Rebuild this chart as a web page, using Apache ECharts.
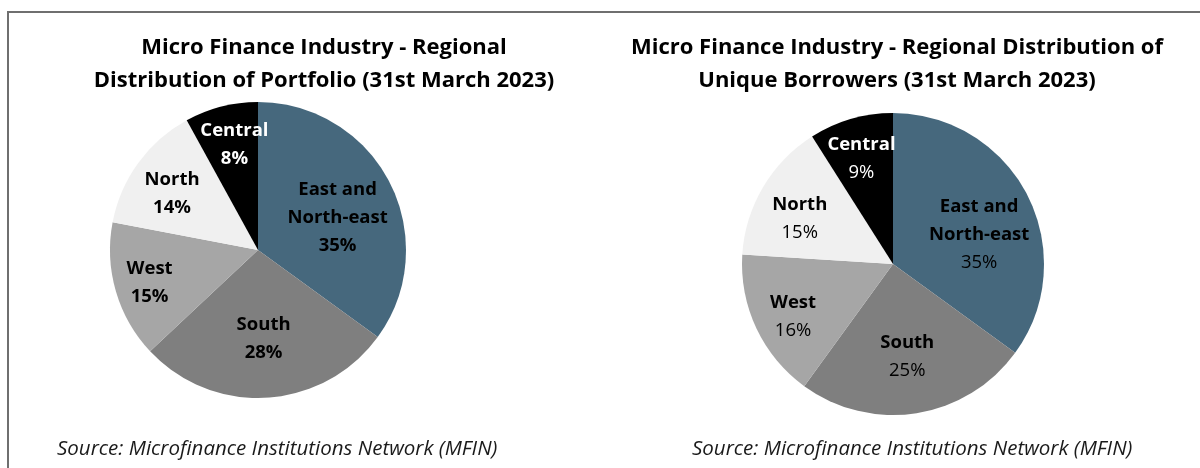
<!DOCTYPE html>
<html>
<head>
<meta charset="utf-8">
<script src="https://cdn.jsdelivr.net/npm/echarts@6/dist/echarts.min.js"></script>
<style>
  html, body { margin: 0; padding: 0; background: #ffffff; }
  #chart { width: 1200px; height: 468px; }
</style>
</head>
<body>
<div id="chart"></div>
<script>
// Regional distribution of the micro finance industry, 31st March 2023
const regions = ['East and\nNorth-east', 'South', 'West', 'North', 'Central'];
const portfolioShare = [35, 28, 15, 14, 8];
const borrowerShare = [35, 25, 16, 15, 9];

const sliceColors = ['#46687d', '#7f7f7f', '#a6a6a6', '#f0f0f0', '#000000'];
const labelColors = ['#000000', '#000000', '#000000', '#000000', '#ffffff'];
// how far out along each slice's middle the label sits (fraction of radius)
const labelDepth = [0.58, 0.58, 0.76, 0.69, 0.72];
// small extra label shifts per slice, one list per pie
const labelNudgeLeft = [[0, 8], [0, 0], [4, 0], [0, 6], [4, 2]];
const labelNudgeRight = [[5, 12], [0, 3], [8, 2], [0, 10], [0, 3]];

const FONT = '"Open Sans", Lato, sans-serif';

const chart = echarts.init(document.getElementById('chart'), null, { renderer: 'canvas' });

function buildData(values) {
  return regions.map((name, i) => ({
    name: name,
    value: values[i],
    itemStyle: { color: sliceColors[i] },
    label: { color: labelColors[i] }
  }));
}

function pieSeries(values, center, radius, pctWeight, nudge) {
  return {
    type: 'pie',
    center: center,
    radius: [0, radius],
    startAngle: 90,
    clockwise: true,
    animation: false,
    silent: true,
    data: buildData(values),
    itemStyle: { borderWidth: 0 },
    label: {
      show: true,
      position: 'inside',
      formatter: '{n|{b}}\n{p|{c}%}',
      rich: {
        n: { fontFamily: FONT, fontSize: 18.5, fontWeight: 'bold', lineHeight: 28, align: 'center' },
        p: { fontFamily: FONT, fontSize: 18.5, fontWeight: pctWeight, lineHeight: 28, align: 'center' }
      }
    },
    labelLine: { show: false },
    labelLayout: function (params) {
      const r = params.labelRect;
      const lx = r.x + r.width / 2;
      const ly = r.y + r.height / 2;
      const k = labelDepth[params.dataIndex] / 0.5;
      const s = nudge[params.dataIndex];
      return {
        x: center[0] + (lx - center[0]) * k + s[0],
        y: center[1] + (ly - center[1]) * k + s[1],
        align: 'center',
        verticalAlign: 'middle'
      };
    }
  };
}

const titleStyle = { fontFamily: FONT, fontSize: 22, fontWeight: 'bold', color: '#000000', lineHeight: 33 };
const sourceStyle = { fontFamily: FONT, fontSize: 20.5, fontStyle: 'italic', fontWeight: 'normal', color: '#1a1a1a' };

chart.setOption({
  backgroundColor: '#ffffff',
  title: [
    {
      text: 'Micro Finance Industry - Regional\nDistribution of Portfolio (31st March 2023)',
      left: 324, top: 31, textAlign: 'center', padding: 0, textStyle: titleStyle
    },
    {
      text: 'Micro Finance Industry - Regional Distribution of\nUnique Borrowers (31st March 2023)',
      left: 897, top: 31, textAlign: 'center', padding: 0, textStyle: titleStyle
    },
    {
      text: 'Source: Microfinance Institutions Network (MFIN)',
      left: 57, top: 439, padding: 0, textStyle: sourceStyle
    },
    {
      text: 'Source: Microfinance Institutions Network (MFIN)',
      left: 692, top: 439, padding: 0, textStyle: sourceStyle
    }
  ],
  graphic: [
    {
      type: 'polyline',
      silent: true,
      shape: { points: [[8, 468], [8, 12], [1200, 12]] },
      style: { stroke: '#6f6f6f', lineWidth: 2, fill: null }
    }
  ],
  series: [
    pieSeries(portfolioShare, [258, 250], 148, 'bold', labelNudgeLeft),
    pieSeries(borrowerShare, [893, 264], 151, 'normal', labelNudgeRight)
  ]
});
</script>
</body>
</html>
